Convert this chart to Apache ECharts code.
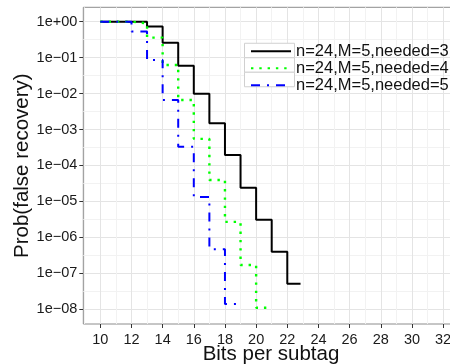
<!DOCTYPE html>
<html>
<head>
<meta charset="utf-8">
<script src="https://cdn.jsdelivr.net/npm/echarts@6/dist/echarts.min.js"></script>
<style>
  html, body { margin: 0; padding: 0; background: #fff; }
  #chart { width: 450px; height: 364px; }
</style>
</head>
<body>
<div id="chart"></div>
<script>
// step data (x = bits per subtag, y = probability)
const bits3 = [10, 11, 12, 13, 14, 15, 16, 17, 18, 19, 20, 21, 22, 22.85];
const needed3 = [1, 1, 1, 0.73, 0.26, 0.059, 0.0099, 0.0015, 1.96e-4, 2.4e-5, 3.1e-6, 4.0e-7, 5.1e-8, 5.1e-8];

const bits4 = [10, 11, 12, 13, 14, 15, 16, 17, 18, 19, 20, 20.9];
const needed4 = [1, 1, 0.9, 0.36, 0.0625, 0.0066, 5.5e-4, 3.95e-5, 2.7e-6, 1.7e-7, 1.1e-8, 1.1e-8];

const bits5 = [10, 11, 12, 13, 14, 15, 16, 17, 18, 18.85];
const needed5 = [1, 1, 0.53, 0.086, 0.0066, 3.3e-4, 1.33e-5, 4.7e-7, 1.4e-8, 1.4e-8];

const seriesNames = ['n=24,M=5,needed=3', 'n=24,M=5,needed=4', 'n=24,M=5,needed=5'];

// axis ticks
const xTicks = [10, 12, 14, 16, 18, 20, 22, 24, 26, 28, 30, 32];
const xMinorTicks = [9, 11, 13, 15, 17, 19, 21, 23, 25, 27, 29, 31, 33];
const yTicks = [1, 1e-1, 1e-2, 1e-3, 1e-4, 1e-5, 1e-6, 1e-7, 1e-8];
const yTickLabels = ['1e+00', '1e\u221201', '1e\u221202', '1e\u221203', '1e\u221204',
  '1e\u221205', '1e\u221206', '1e\u221207', '1e\u221208'];

const FONT = 'Liberation Sans';
const zip = (xs, ys) => xs.map((x, i) => [x, ys[i]]);
const yMinorTicks = yTicks.map(v => v * Math.sqrt(10));

const chart = echarts.init(document.getElementById('chart'));

const lineBase = { type: 'line', step: 'end', symbol: 'none', showSymbol: false, animation: false };

const gridLine = (color, width) => ({ show: true, lineStyle: { color: color, width: width } });

const option = {
  animation: false,
  grid: {
    left: 83.3, top: 7.3, right: -8.7, bottom: 40,
    outerBoundsMode: 'none', containLabel: false,
    show: true, borderColor: '#8c8c8c', borderWidth: 1, backgroundColor: '#fff'
  },
  xAxis: [
    {
      type: 'value', min: 8.909, max: 33.0,
      axisLine: { show: false },
      axisTick: { show: true, length: 4, lineStyle: { color: '#333' }, customValues: xTicks },
      axisLabel: { customValues: xTicks, fontFamily: FONT, fontSize: 14.5, color: '#1a1a1a', margin: 8 },
      splitLine: gridLine('#e4e4e4', 1),
      name: 'Bits per subtag', nameLocation: 'middle', nameGap: 20, nameMoveOverlap: false,
      nameTextStyle: { fontFamily: FONT, fontSize: 20.5, color: '#111', verticalAlign: 'top' }
    },
    {
      type: 'value', min: 8.909, max: 33.0, position: 'bottom',
      axisLine: { show: false },
      axisTick: { show: false, customValues: xMinorTicks },
      axisLabel: { show: false },
      splitLine: gridLine('#f2f2f2', 1)
    }
  ],
  yAxis: [
    {
      type: 'log', logBase: 10, min: Math.pow(10, -8.409), max: Math.pow(10, 0.40),
      axisLine: { show: false },
      axisTick: { show: true, length: 4, lineStyle: { color: '#333' }, customValues: yTicks },
      axisLabel: {
        customValues: yTicks, fontFamily: FONT, fontSize: 14.5, color: '#1a1a1a', margin: 6,
        formatter: v => {
          const e = Math.log10(v);
          const i = yTicks.findIndex(t => Math.abs(Math.log10(t) - e) < 1e-6);
          return i >= 0 ? yTickLabels[i] : '';
        }
      },
      splitLine: gridLine('#e4e4e4', 1),
      name: 'Prob(false recovery)', nameLocation: 'middle', nameGap: 50, nameMoveOverlap: false,
      nameTextStyle: { fontFamily: FONT, fontSize: 20.5, color: '#111' }
    },
    {
      type: 'log', logBase: 10, min: Math.pow(10, -8.409), max: Math.pow(10, 0.40), position: 'left',
      axisLine: { show: false },
      axisTick: { show: false, customValues: yMinorTicks },
      axisLabel: { show: false },
      splitLine: gridLine('#f2f2f2', 1)
    }
  ],
  legend: {
    orient: 'vertical', left: 250, top: 42.75, padding: 0, itemGap: 0,
    itemWidth: 40, itemHeight: 14.5, z: 5,
    itemStyle: { opacity: 0, borderWidth: 0 },
    textStyle: { fontFamily: FONT, fontSize: 16.5, color: '#111', lineHeight: 14.5 },
    data: seriesNames
  },
  graphic: seriesNames.map((n, i) => ({
    type: 'rect', left: 244, top: 42.75 + i * 14.5, z: 4,
    shape: { width: 50, height: 14.5 },
    style: { fill: '#fff', stroke: '#d0d0d0', lineWidth: 1 }
  })),
  series: [
    Object.assign({}, lineBase, {
      name: seriesNames[0], data: zip(bits3, needed3),
      itemStyle: { color: '#000' },
      lineStyle: { color: '#000', width: 2, type: 'solid' }
    }),
    Object.assign({}, lineBase, {
      name: seriesNames[1], data: zip(bits4, needed4),
      itemStyle: { color: '#00ff00' },
      lineStyle: { color: '#00ff00', width: 2.4, type: [2.4, 5.9] }
    }),
    Object.assign({}, lineBase, {
      name: seriesNames[2], data: zip(bits5, needed5),
      itemStyle: { color: '#0000ff' },
      lineStyle: { color: '#0000ff', width: 2, type: [9, 7, 2, 7] }
    })
  ]
};

chart.setOption(option);
</script>
</body>
</html>
